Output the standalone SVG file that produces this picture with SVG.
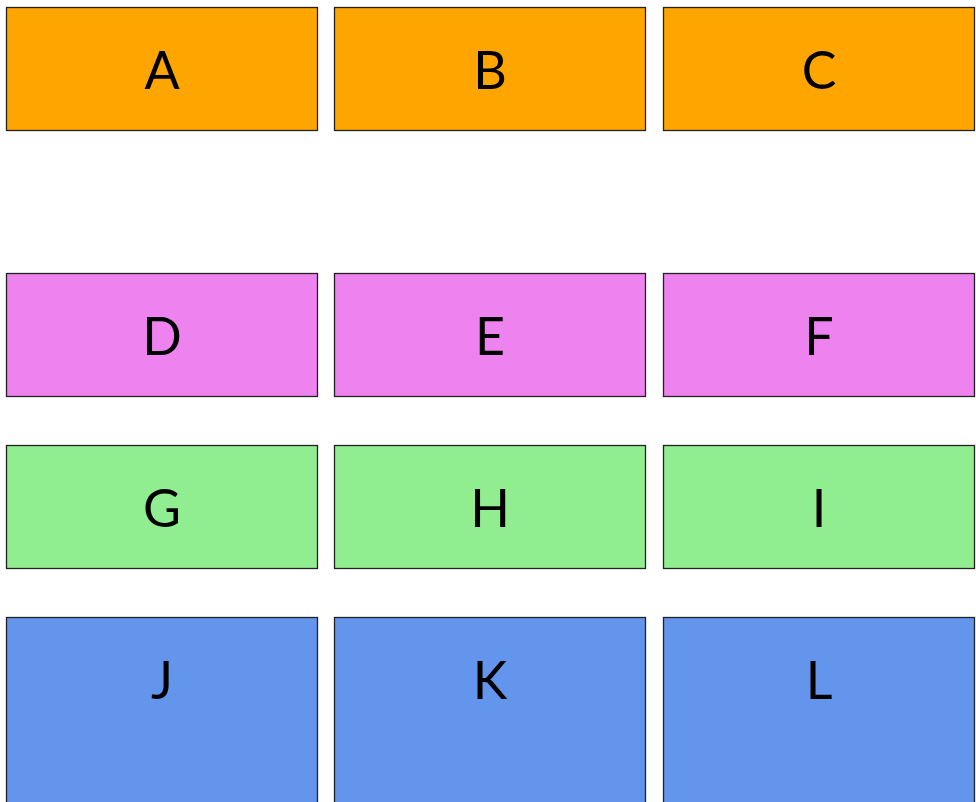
<svg xmlns="http://www.w3.org/2000/svg" width="976" height="802" viewBox="0 0 976 802">
<style>
rect{stroke:#222;stroke-width:1.3}
text{font-family:Lato,"Liberation Sans",sans-serif;font-size:52px;fill:#000;text-anchor:middle}
.o{fill:#FFA500}.v{fill:#EE82EE}.g{fill:#90EE90}.b{fill:#6495ED}
</style>
<rect width="976" height="802" fill="#fff" style="stroke:none"/>
<g id="A"><rect class="o" x="6.5" y="7.5" width="311" height="123"/><text x="162" y="89">A</text></g>
<g id="B"><rect class="o" x="334.5" y="7.5" width="311" height="123"/><text x="490" y="89">B</text></g>
<g id="C"><rect class="o" x="663.5" y="7.5" width="311" height="123"/><text x="819" y="89">C</text></g>
<g id="D"><rect class="v" x="6.5" y="273.5" width="311" height="123"/><text x="162" y="355">D</text></g>
<g id="E"><rect class="v" x="334.5" y="273.5" width="311" height="123"/><text x="490" y="355">E</text></g>
<g id="F"><rect class="v" x="663.5" y="273.5" width="311" height="123"/><text x="819" y="355">F</text></g>
<g id="G"><rect class="g" x="6.5" y="445.5" width="311" height="123"/><text x="162" y="527">G</text></g>
<g id="H"><rect class="g" x="334.5" y="445.5" width="311" height="123"/><text x="490" y="527">H</text></g>
<g id="I"><rect class="g" x="663.5" y="445.5" width="311" height="123"/><text x="819" y="527">I</text></g>
<g id="J"><rect class="b" x="6.5" y="617.5" width="311" height="200"/><text x="162" y="699">J</text></g>
<g id="K"><rect class="b" x="334.5" y="617.5" width="311" height="200"/><text x="490" y="699">K</text></g>
<g id="L"><rect class="b" x="663.5" y="617.5" width="311" height="200"/><text x="819" y="699">L</text></g>
<g id="connectors"></g>
</svg>
